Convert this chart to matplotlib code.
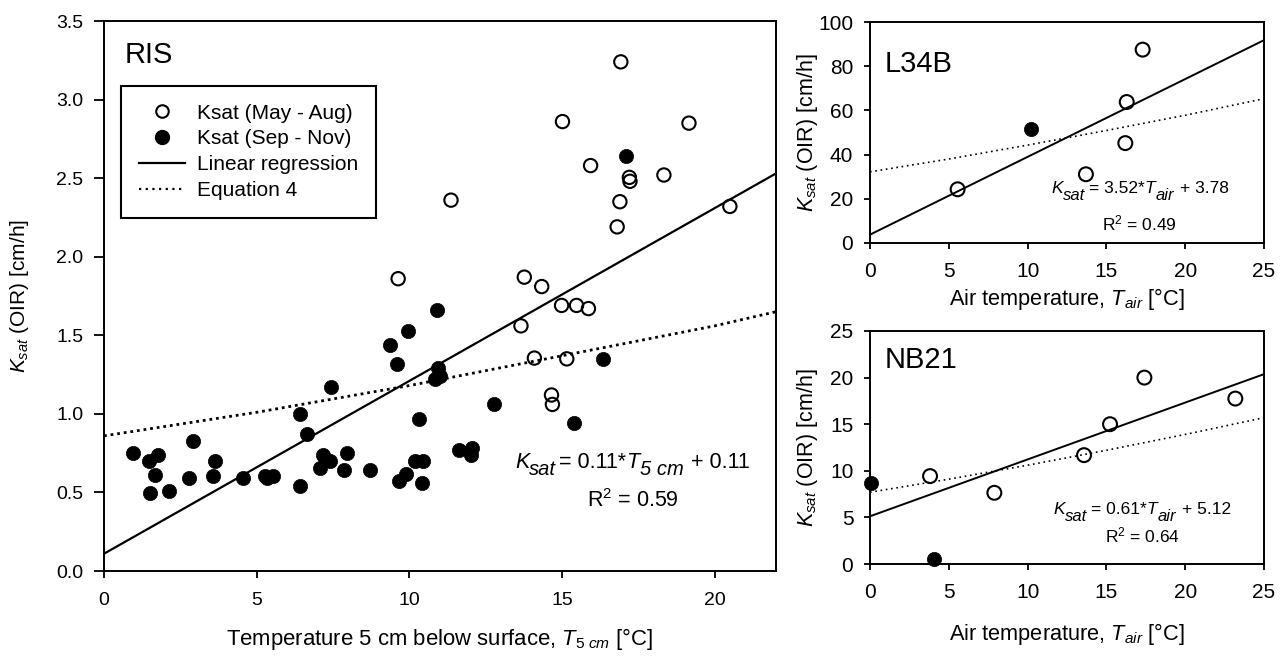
import matplotlib
matplotlib.use("Agg")
import matplotlib.pyplot as plt
import numpy as np
from matplotlib.lines import Line2D
from matplotlib.transforms import offset_copy

plt.rcParams['font.family'] = ['Liberation Sans', 'DejaVu Sans']
plt.rcParams['mathtext.fontset'] = 'custom'
plt.rcParams['mathtext.rm'] = 'Liberation Sans'
plt.rcParams['mathtext.it'] = 'Liberation Sans:italic'
plt.rcParams['mathtext.bf'] = 'Liberation Sans:bold'

# ---------------- data ----------------
# RIS
ris_may_x = [9.63, 11.36, 13.76, 14.33, 14.98, 15.47, 15.86, 13.65, 14.09, 15.15, 14.65,
             14.68, 16.92, 15.01, 19.15, 15.93, 18.33, 17.20, 17.22, 16.89, 16.80, 20.49]
ris_may_y = [1.86, 2.36, 1.87, 1.81, 1.69, 1.69, 1.67, 1.56, 1.355, 1.35, 1.12,
             1.06, 3.24, 2.86, 2.85, 2.58, 2.52, 2.505, 2.48, 2.35, 2.19, 2.32]
ris_sep_x = [0.94, 1.78, 1.48, 1.67, 1.50, 2.14, 2.79, 2.90, 3.63, 3.58, 4.54, 5.27, 5.33,
             5.54, 6.42, 6.63, 6.43, 7.18, 7.40, 7.07, 7.42, 7.94, 7.86, 8.70, 9.36, 9.58,
             9.96, 10.89, 10.94, 11.00, 10.83, 10.31, 9.66, 9.90, 10.18, 10.45, 10.42,
             11.62, 12.06, 12.00, 12.77, 15.39, 16.32, 17.10]
ris_sep_y = [0.75, 0.74, 0.70, 0.61, 0.495, 0.51, 0.59, 0.83, 0.70, 0.605, 0.59, 0.605, 0.59,
             0.605, 1.00, 0.875, 0.54, 0.74, 0.70, 0.655, 1.17, 0.75, 0.64, 0.64, 1.44, 1.32,
             1.53, 1.66, 1.29, 1.24, 1.22, 0.97, 0.57, 0.62, 0.70, 0.70, 0.56,
             0.77, 0.785, 0.74, 1.06, 0.94, 1.35, 2.64]
ris_slope, ris_intercept = 0.11, 0.11
ris_eq4_x = [0, 5, 10, 15, 20, 22]
ris_eq4_y = [0.86, 1.01, 1.18, 1.37, 1.56, 1.65]

# L34B
l34_may_x = [5.56, 13.7, 16.2, 16.29, 17.3]
l34_may_y = [24.3, 31.1, 45.2, 63.8, 87.5]
l34_sep_x = [10.19]
l34_sep_y = [51.4]
l34_slope, l34_intercept = 3.52, 3.78
l34_eq4_x = [0, 5, 10, 15, 20, 25]
l34_eq4_y = [32.2, 38.0, 44.3, 50.9, 57.8, 65.3]

# NB21
nb_may_x = [3.81, 7.89, 13.58, 15.23, 17.41, 23.18]
nb_may_y = [9.43, 7.64, 11.68, 15.0, 20.0, 17.75]
nb_sep_x = [0.06, 4.06]
nb_sep_y = [8.64, 0.57]
nb_slope, nb_intercept = 0.61, 5.12
nb_eq4_x = [0, 5, 10, 15, 20, 25]
nb_eq4_y = [7.7, 9.1, 10.6, 12.2, 13.9, 15.7]

legend_labels = ["Ksat (May - Aug)", "Ksat (Sep - Nov)", "Linear regression", "Equation 4"]

# ---------------- figure ----------------
W, H = 1283, 656
fig = plt.figure(figsize=(W / 100, H / 100), dpi=100)
renderer = fig.canvas.get_renderer()


def frac(l, t, r, b):
    return [l / W, 1 - b / H, (r - l) / W, (b - t) / H]


def rich(ax, x, y, pieces):
    """pieces: (text, size, italic, dy_px, gap_before_px); centred at (x, y) baseline."""
    objs, widths = [], []
    for s, size, it, dy, gap in pieces:
        t = ax.text(x, y, s, fontsize=size, style='italic' if it else 'normal',
                    ha='left', va='baseline', transform=ax.transData)
        objs.append(t)
        widths.append(t.get_window_extent(renderer).width)
    total = sum(widths) + sum(p[4] for p in pieces)
    pos = -total / 2
    for t, w, p in zip(objs, widths, pieces):
        pos += p[4]
        t.set_transform(offset_copy(ax.transData, fig=fig, x=pos, y=p[3], units='dots'))
        pos += w


def fig_text(px, py, s, **kw):
    return fig.text(px / W, 1 - py / H, s, **kw)


ax1 = fig.add_axes(frac(104, 21, 776, 571))
ax2 = fig.add_axes(frac(870, 22, 1264, 243))
ax3 = fig.add_axes(frac(870, 331, 1264, 564))

for ax in (ax1, ax2, ax3):
    for s in ax.spines.values():
        s.set_linewidth(1.4)

# ---- RIS ----
ax1.set_xlim(0, 22)
ax1.set_ylim(0, 3.5)
xr = np.array(ax1.get_xlim())
ax1.plot(xr, ris_slope * xr + ris_intercept, color='black', lw=1.6, zorder=2)
ax1.plot(ris_eq4_x, ris_eq4_y, color='black', lw=2.0, ls=(0, (1, 1.4)), zorder=2)
ax1.scatter(ris_may_x, ris_may_y, s=92, facecolors='none', edgecolors='black',
            linewidths=1.5, zorder=3, clip_on=False)
ax1.scatter(ris_sep_x, ris_sep_y, s=105, facecolors='black', edgecolors='black',
            linewidths=0.5, zorder=3, clip_on=False)
ax1.set_xticks([0, 5, 10, 15, 20])
ax1.set_yticks(np.arange(0, 3.51, 0.5))
ax1.set_yticklabels([f"{v:.1f}" for v in np.arange(0, 3.51, 0.5)])
ax1.tick_params(axis='y', direction='out', length=7, width=1.3, labelsize=14, pad=8)
ax1.tick_params(axis='x', direction='out', length=5, width=1.3, labelsize=14, pad=10)
fig_text(440, 645, r"Temperature 5 cm below surface, $T_{5\ cm}$ [°C]", fontsize=15.9,
         ha='center', va='baseline')
fig_text(25, 296, r"$K_{sat}$ (OIR) [cm/h]", fontsize=15, rotation=90,
         rotation_mode='anchor', ha='center', va='baseline')
ax1.text(0.031, 0.924, "RIS", transform=ax1.transAxes, fontsize=21, ha='left', va='baseline')
rich(ax1, 17.3, 0.657, [("K", 15.5, True, 0, 0), ("sat", 14.5, True, -7, 0),
                        ("= 0.11*", 15.5, False, 0, 3), ("T", 15.5, True, 0, 0),
                        ("5 cm", 14.5, True, -7, 1), ("+ 0.11", 15.5, False, 0, 7)])
ax1.text(17.3, 0.41, r"R$^2$ = 0.59", fontsize=15.5, ha='center', va='baseline')

handles = [
    Line2D([], [], ls='none', marker='o', mfc='none', mec='black', mew=1.5, ms=9),
    Line2D([], [], ls='none', marker='o', mfc='black', mec='black', ms=10),
    Line2D([], [], color='black', lw=1.6),
    Line2D([], [], color='black', lw=1.6, ls=(0, (1, 2))),
]
leg = ax1.legend(handles, legend_labels, loc='upper left', bbox_to_anchor=(0.0253, 0.882),
                 borderaxespad=0, fancybox=False, framealpha=1, edgecolor='black',
                 fontsize=15, handlelength=2.2, handletextpad=0.58, labelspacing=0.33,
                 borderpad=0.85)
leg.get_frame().set_linewidth(1.5)

# ---- L34B ----
ax2.set_xlim(0, 25)
ax2.set_ylim(0, 100)
xr = np.array(ax2.get_xlim())
ax2.plot(xr, l34_slope * xr + l34_intercept, color='black', lw=1.4, zorder=2)
ax2.plot(l34_eq4_x, l34_eq4_y, color='black', lw=1.2, ls=(0, (1, 2.2)), zorder=2)
ax2.scatter(l34_may_x, l34_may_y, s=100, facecolors='none', edgecolors='black',
            linewidths=1.5, zorder=3, clip_on=False)
ax2.scatter(l34_sep_x, l34_sep_y, s=105, facecolors='black', edgecolors='black',
            linewidths=0.5, zorder=3, clip_on=False)
ax2.set_xticks(range(0, 26, 5))
ax2.set_yticks(range(0, 101, 20))
ax2.text(0.038, 0.775, "L34B", transform=ax2.transAxes, fontsize=21, ha='left', va='baseline')
rich(ax2, 17.16, 22.6, [("K", 12.5, True, 0, 0), ("sat", 12, True, -7, 0),
                        ("= 3.52*", 12.5, False, 0, 3), ("T", 12.5, True, 0, 0),
                        ("air", 12, True, -7, 1), ("+ 3.78", 12.5, False, 0, 6)])
ax2.text(17.1, 5.5, r"R$^2$ = 0.49", fontsize=12.5, ha='center', va='baseline')

# ---- NB21 ----
ax3.set_xlim(0, 25)
ax3.set_ylim(0, 25)
xr = np.array(ax3.get_xlim())
ax3.plot(xr, nb_slope * xr + nb_intercept, color='black', lw=1.4, zorder=2)
ax3.plot(nb_eq4_x, nb_eq4_y, color='black', lw=1.2, ls=(0, (1, 2.2)), zorder=2)
ax3.scatter(nb_may_x, nb_may_y, s=100, facecolors='none', edgecolors='black',
            linewidths=1.5, zorder=3, clip_on=False)
ax3.scatter(nb_sep_x, nb_sep_y, s=105, facecolors='black', edgecolors='black',
            linewidths=0.5, zorder=3, clip_on=False)
ax3.set_xticks(range(0, 26, 5))
ax3.set_yticks(range(0, 26, 5))
ax3.text(0.038, 0.84, "NB21", transform=ax3.transAxes, fontsize=21, ha='left', va='baseline')
rich(ax3, 17.3, 5.36, [("K", 12.5, True, 0, 0), ("sat", 12, True, -7, 0),
                       ("= 0.61*", 12.5, False, 0, 3), ("T", 12.5, True, 0, 0),
                       ("air", 12, True, -7, 1), ("+ 5.12", 12.5, False, 0, 6)])
ax3.text(17.3, 2.28, r"R$^2$ = 0.64", fontsize=12.5, ha='center', va='baseline')

for ax in (ax2, ax3):
    ax.tick_params(direction='out', length=4, width=1.3, labelsize=15, pad=8)
    ax.tick_params(axis='x', pad=10)

fig_text(1067, 305, r"Air temperature, $T_{air}$ [°C]", fontsize=15.7, ha='center', va='baseline')
fig_text(1067, 640, r"Air temperature, $T_{air}$ [°C]", fontsize=15.7, ha='center', va='baseline')
fig_text(813, 132.5, r"$K_{sat}$ (OIR) [cm/h]", fontsize=15.5, rotation=90,
         rotation_mode='anchor', ha='center', va='baseline')
fig_text(813, 447.5, r"$K_{sat}$ (OIR) [cm/h]", fontsize=15.5, rotation=90,
         rotation_mode='anchor', ha='center', va='baseline')

fig.savefig("out.png", dpi=100)
